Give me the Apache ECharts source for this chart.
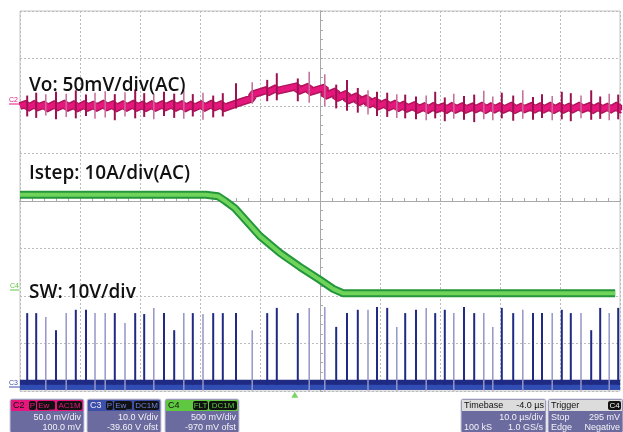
<!DOCTYPE html>
<html>
<head>
<meta charset="utf-8">
<script src="https://cdn.jsdelivr.net/npm/echarts@6/dist/echarts.min.js"></script>
<style>
  html, body { margin: 0; padding: 0; background: #fff; }
  #chart { width: 623px; height: 432px; }
</style>
</head>
<body>
<div id="chart"></div>
<script>
// x: time in us (10 us/div), y: screen divisions (-4..4)
const iTime = [-50, -19, -17, -15.8, -14.2, -10, -6.7, -3.3, 0, 2.2, 3.8, 49.2];
const iLevel = [0.13, 0.13, 0.10, 0.0, -0.15, -0.74, -1.09, -1.39, -1.66, -1.85, -1.94, -1.94];

// switching events (SW pulses, Vo spikes and Vo ripple share them)
const swTime = [-48.8, -47.3, -45.7, -44.0, -42.3, -40.7, -39.0, -37.5, -35.8, -34.2, -32.5, -30.8, -29.3, -27.7,
  -26.0, -24.3, -22.7, -21.2, -19.5, -17.8, -16.2, -14.0, -11.3, -8.8, -7.2, -3.7, -1.8, 0.8, 2.7, 4.5, 6.3, 8.0,
  9.5, 11.2, 12.8, 14.2, 16.0, 17.7, 19.2, 20.8, 22.3, 24.0, 25.7, 27.3, 28.8, 30.3, 32.2, 33.8, 35.5, 37.0, 38.7,
  40.3, 41.8, 43.5, 45.2, 46.7, 48.2, 49.7];
const swTop = [-2.36, -2.36, -2.44, -2.72, -2.36, -2.29, -2.29, -2.36, -2.36, -2.36, -2.57, -2.36, -2.38, -2.25,
  -2.36, -2.72, -2.36, -2.36, -2.38, -2.36, -2.36, -2.36, -2.72, -2.36, -2.25, -2.36, -2.25, -2.23, -2.65, -2.36,
  -2.29, -2.29, -2.23, -2.25, -2.65, -2.36, -2.29, -2.25, -2.36, -2.29, -2.36, -2.23, -2.36, -2.36, -2.65, -2.25,
  -2.36, -2.29, -2.36, -2.36, -2.36, -2.29, -2.36, -2.36, -2.72, -2.25, -2.36, -2.25];
// 1 = light (persistence) trace, 0 = dark
const swShade = [0, 0, 1, 0, 1, 0, 0, 1, 1, 0, 1, 0, 0, 1, 0, 0, 1, 0, 1, 0, 0, 0, 1, 0, 0, 0, 1,
  1, 0, 0, 0, 1, 0, 0, 1, 0, 0, 1, 0, 0, 1, 0, 0, 1, 1, 0, 0, 1, 0, 0, 1, 0, 0, 1, 0, 0, 1, 0];
const swBase = -3.87;

// Vo spike extremes
const voHi = [2.22, 2.28, 2.25, 2.30, 2.26, 2.33, 2.24, 2.28, 2.31, 2.25, 2.29, 2.35, 2.27, 2.24, 2.30, 2.26, 2.33,
  2.25, 2.28, 2.22, 2.27, 2.48, 2.50, 2.55, 2.69, 2.58, 2.72, 2.67, 2.45, 2.55, 2.38, 2.33, 2.30, 2.28, 2.25, 2.24,
  2.20, 2.22, 2.30, 2.18, 2.26, 2.21, 2.24, 2.32, 2.20, 2.28, 2.22, 2.33, 2.19, 2.25, 2.21, 2.30, 2.27, 2.22, 2.33,
  2.20, 2.26, 2.24];
const voLo = [1.78, 1.75, 1.80, 1.72, 1.77, 1.74, 1.79, 1.73, 1.76, 1.70, 1.78, 1.74, 1.77, 1.72, 1.79, 1.75, 1.73,
  1.78, 1.71, 1.76, 1.78, 1.95, 2.05, 2.10, 2.12, 2.10, 2.07, 2.00, 1.95, 1.90, 1.86, 1.82, 1.79, 1.77, 1.75, 1.74,
  1.72, 1.70, 1.74, 1.68, 1.73, 1.71, 1.66, 1.72, 1.70, 1.74, 1.69, 1.73, 1.71, 1.75, 1.70, 1.72, 1.68, 1.74, 1.71,
  1.73, 1.70, 1.72];
// Vo ripple: band value just before each event and just after it
const voRampTop = [2.05, 2.06, 2.04, 2.05, 2.06, 2.05, 2.05, 2.04, 2.06, 2.05, 2.05, 2.06, 2.04, 2.05, 2.05, 2.06,
  2.05, 2.04, 2.05, 2.06, 2.05, 2.05, 2.16, 2.34, 2.38, 2.42, 2.41, 2.39, 2.31, 2.26, 2.21, 2.17, 2.12, 2.08, 2.06,
  2.04, 2.03, 2.01, 2.02, 2.00, 2.02, 2.01, 2.00, 2.02, 2.01, 2.01, 2.02, 2.00, 2.01, 2.01, 2.02, 2.01, 2.00, 2.02,
  2.01, 2.01, 2.00, 2.02];
const voRampBot = [1.95, 1.96, 1.94, 1.96, 1.95, 1.94, 1.95, 1.95, 1.96, 1.94, 1.95, 1.95, 1.94, 1.95, 1.96, 1.95,
  1.94, 1.95, 1.95, 1.96, 1.95, 2.06, 2.24, 2.28, 2.32, 2.31, 2.29, 2.21, 2.16, 2.11, 2.07, 2.02, 1.98, 1.96, 1.94,
  1.93, 1.91, 1.90, 1.92, 1.90, 1.91, 1.91, 1.92, 1.90, 1.91, 1.91, 1.90, 1.92, 1.91, 1.91, 1.90, 1.91, 1.91, 1.92,
  1.90, 1.91, 1.91, 1.91];
const voStart = [-50, 2.00];
const voEnd = [50, 1.93];
const trigTime = -4.2;

const pink = "#e5177d";
const green = "#5fc840";
const navy = "#1f2a82";

const chart = echarts.init(document.getElementById("chart"));

function pair(xs, ys) {
  return xs.map((x, i) => [x, ys[i]]);
}

// sawtooth: jump at each event, ramp to the next one
const voBand = [voStart];
swTime.forEach((t, i) => {
  voBand.push([t, voRampTop[i]]);
  voBand.push([t, voRampBot[i]]);
});
voBand.push(voEnd);

function vline(params, api) {
  const a = api.coord([api.value(0), api.value(1)]);
  const b = api.coord([api.value(0), api.value(2)]);
  const light = api.value(3) === 1;
  return {
    type: "line",
    shape: { x1: a[0], y1: a[1], x2: b[0], y2: b[1] },
    style: { stroke: light ? this.light : this.dark, lineWidth: light ? 1.5 : 2 },
  };
}

const gridLine = { color: "#a8a8a8" };
function xAx(inside) {
  return {
    type: "value", min: -50, max: 50, interval: 10,
    axisLine: { onZero: true, lineStyle: gridLine },
    axisTick: { show: true, inside: inside, length: 3, lineStyle: gridLine },
    minorTick: { show: true, splitNumber: 5, length: 3, lineStyle: gridLine },
    axisLabel: { show: false },
    splitLine: { show: inside, lineStyle: { color: "#bcbcbc", type: [2, 2] } },
  };
}
function yAx(inside) {
  return {
    type: "value", min: -4, max: 4, interval: 1,
    axisLine: { onZero: true, lineStyle: gridLine },
    axisTick: { show: true, inside: inside, length: 3, lineStyle: gridLine },
    minorTick: { show: true, splitNumber: 5, length: 3, lineStyle: gridLine },
    axisLabel: { show: false },
    splitLine: { show: inside, lineStyle: { color: "#bcbcbc", type: [2, 2] } },
  };
}

// bottom info boxes
const boxFont = "Liberation Sans";
function infoBox(x, w, head, headText, headColor, badges, rows) {
  const els = [
    { type: "rect", shape: { x: x, y: 399, width: w, height: 34, r: 2 },
      style: { fill: "#6c6b9f", stroke: "#c8c8d8", lineWidth: 1 } },
    { type: "rect", shape: { x: x + 1, y: 400, width: w - 2, height: 11 }, style: { fill: head } },
    { type: "text", style: { x: x + 3, y: 405.5, text: headText, fill: headColor, font: "9px " + boxFont,
      textVerticalAlign: "middle" } },
  ];
  badges.forEach(b => {
    els.push({ type: "rect", shape: { x: b[0], y: 401, width: b[1], height: 9, r: 2 }, style: { fill: "#111" } });
    els.push({ type: "text", style: { x: b[0] + b[1] / 2, y: 405.5, text: b[2], fill: b[3], font: "8px " + boxFont,
      textAlign: "center", textVerticalAlign: "middle" } });
  });
  rows.forEach(r => {
    els.push({ type: "text", style: { x: r[0] === "l" ? x + 3 : x + w - 3, y: r[1], text: r[2], fill: "#f2f2f6",
      font: "9px " + boxFont, textAlign: r[0] === "l" ? "left" : "right", textVerticalAlign: "middle" } });
  });
  return els;
}

const labelFont = "600 19px 'Open Sans'";
const graphics = [
  { type: "text", z: 100, style: { x: 29, y: 86, text: "Vo: 50mV/div(AC)", font: labelFont, fill: "#111", textVerticalAlign: "middle" } },
  { type: "text", z: 100, style: { x: 29, y: 174, text: "Istep: 10A/div(AC)", font: labelFont, fill: "#111", textVerticalAlign: "middle" } },
  { type: "text", z: 100, style: { x: 29, y: 293, text: "SW: 10V/div", font: labelFont, fill: "#111", textVerticalAlign: "middle" } },
  { type: "text", style: { x: 9, y: 100, text: "C2", font: "7px " + boxFont, fill: pink, textVerticalAlign: "middle" } },
  { type: "line", shape: { x1: 9, y1: 104, x2: 20, y2: 104 }, style: { stroke: pink, lineWidth: 1 } },
  { type: "text", style: { x: 10, y: 286, text: "C4", font: "7px " + boxFont, fill: green, textVerticalAlign: "middle" } },
  { type: "line", shape: { x1: 10, y1: 290, x2: 19, y2: 290 }, style: { stroke: green, lineWidth: 1 } },
  { type: "text", style: { x: 9, y: 383, text: "C3", font: "7px " + boxFont, fill: "#3d4fa8", textVerticalAlign: "middle" } },
  { type: "line", shape: { x1: 9, y1: 387, x2: 20, y2: 387 }, style: { stroke: "#3d4fa8", lineWidth: 1 } },
]
  .concat(infoBox(10, 74, pink, "C2", "#111",
    [[29, 7, "P", pink], [37, 18, "Ew_", pink], [57, 25, "AC1M", pink]],
    [["r", 418, "50.0 mV/div"], ["r", 428, "100.0 mV"]]))
  .concat(infoBox(87, 74, "#3d4fa8", "C3", "#e8e8f4",
    [[106, 7, "P", "#6f82d8"], [114, 18, "Ew_", "#6f82d8"], [134, 25, "DC1M", "#6f82d8"]],
    [["r", 418, "10.0 V/div"], ["r", 428, "-39.60 V ofst"]]))
  .concat(infoBox(165, 74, green, "C4", "#111",
    [[193, 15, "FLT", green], [209, 28, "DC1M", green]],
    [["r", 418, "500 mV/div"], ["r", 428, "-970 mV ofst"]]))
  .concat(infoBox(461, 85, "#dcdcdc", "Timebase", "#111", [],
    [["r", 418, "10.0 \u00b5s/div"], ["l", 428, "100 kS"], ["r", 428, "1.0 GS/s"]]))
  .concat(infoBox(548, 75, "#dcdcdc", "Trigger", "#111",
    [[608, 13, "C4", "#eee"]],
    [["l", 418, "Stop"], ["r", 418, "295 mV"], ["l", 428, "Edge"], ["r", 428, "Negative"]]));
graphics.push({ type: "text", style: { x: 544, y: 405.5, text: "-4.0 \u00b5s", fill: "#111", font: "9px " + boxFont,
  textAlign: "right", textVerticalAlign: "middle" } });

const option = {
  animation: false,
  backgroundColor: "#fff",
  grid: { left: 20, top: 11, width: 600, height: 380, show: true, borderColor: "#c4c4c4", borderWidth: 1 },
  xAxis: [xAx(true), xAx(false)],
  yAxis: [yAx(true), yAx(false)],
  graphic: graphics,
  series: [
    {
      name: "Vo edge", type: "line", data: voBand, symbol: "none", z: 3,
      lineStyle: { color: "#b0145a", width: 8, join: "bevel" },
    },
    {
      name: "Vo", type: "line", data: voBand, symbol: "none", z: 4,
      lineStyle: { color: pink, width: 5, join: "bevel" },
    },
    {
      name: "Vo spikes", type: "custom", z: 5,
      renderItem: vline.bind({ dark: "#9c1150", light: "#c46b97" }),
      data: swTime.map((t, i) => [t, voLo[i], voHi[i], swShade[i]]),
    },
    {
      name: "Istep", type: "line", data: pair(iTime, iLevel), symbol: "none", z: 5,
      lineStyle: { color: "#23963b", width: 8, join: "round" },
    },
    {
      name: "Istep core", type: "line", data: pair(iTime, iLevel), symbol: "none", z: 6,
      lineStyle: { color: "#6fd45a", width: 4, join: "round" },
    },
    {
      name: "SW", type: "line", data: [[-50, swBase], [50, swBase]], symbol: "none", z: 7,
      lineStyle: { color: navy, width: 10 },
    },
    {
      name: "SW core", type: "line", data: [[-50, swBase - 0.05], [50, swBase - 0.05]], symbol: "none", z: 8,
      lineStyle: { color: "#2f4db2", width: 5 },
    },
    {
      name: "SW pulses", type: "custom", z: 9,
      renderItem: vline.bind({ dark: navy, light: "#9496c8" }),
      data: swTime.map((t, i) => [t, swBase - (swShade[i] ? 0.12 : 0), swTop[i], swShade[i]]),
    },
    {
      name: "Trigger", type: "scatter", data: [[trigTime, -4.08]], symbol: "triangle", symbolSize: [7, 6],
      itemStyle: { color: green }, clip: false, z: 10,
    },
  ],
};
chart.setOption(option);
</script>
</body>
</html>
